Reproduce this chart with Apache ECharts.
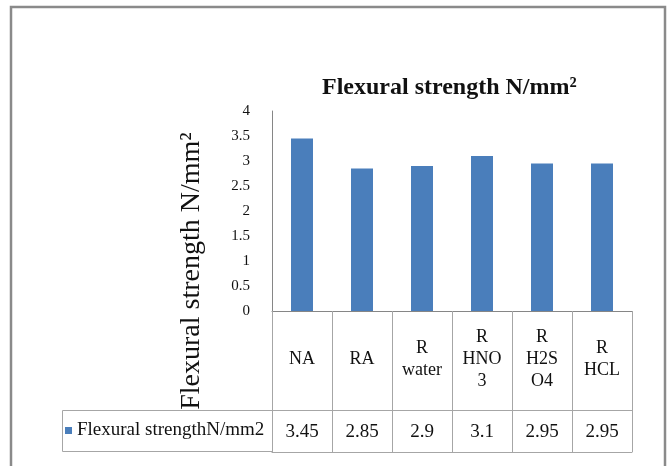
<!DOCTYPE html>
<html>
<head>
<meta charset="utf-8">
<script src="https://cdn.jsdelivr.net/npm/echarts@6/dist/echarts.min.js"></script>
<style>html,body{margin:0;padding:0;background:#fff;}#chart{width:668px;height:466px;}</style>
</head>
<body>
<div id="chart"></div>
<script>
const categories = ['NA', 'RA', 'R\nwater', 'R\nHNO\n3', 'R\nH2S\nO4', 'R\nHCL'];
const values = [3.45, 2.85, 2.9, 3.1, 2.95, 2.95];
const valueLabels = ['3.45', '2.85', '2.9', '3.1', '2.95', '2.95'];
const seriesName = 'Flexural strengthN/mm2';
const titleText = 'Flexural strength N/mm\u00b2';
const yAxisTitle = 'Flexural strength N/mm\u00b2';
const yMin = 0, yMax = 4, yStep = 0.5;

const SERIF = '"Liberation Serif", "DejaVu Serif", serif';
const tableLine = '#a6a6a6';

const chart = echarts.init(document.getElementById('chart'));
chart.setOption({
  animation: false,
  backgroundColor: '#fff',
  title: {
    text: titleText,
    left: 317, top: 71,
    textStyle: { fontFamily: SERIF, fontWeight: 'bold', fontSize: 24, color: '#111' }
  },
  legend: {
    data: [seriesName],
    left: 65, top: 421,
    padding: 0,
    icon: 'rect', itemWidth: 7, itemHeight: 7,
    textStyle: { fontFamily: SERIF, fontSize: 19, color: '#111' }
  },
  grid: { left: 272, right: 36, top: 111, bottom: 155, containLabel: false },
  xAxis: [
    {
      type: 'category', data: categories, position: 'bottom',
      axisLine: { lineStyle: { color: '#868686', width: 1 } },
      axisTick: { show: true, length: 99, lineStyle: { color: tableLine } },
      axisLabel: { margin: 48, verticalAlign: 'middle', lineHeight: 22, fontFamily: SERIF, fontSize: 18, color: '#111', interval: 0 }
    },
    {
      type: 'category', data: valueLabels, position: 'bottom', offset: 99,
      axisLine: { lineStyle: { color: tableLine, width: 1 } },
      axisTick: { show: true, length: 42, lineStyle: { color: tableLine } },
      axisLabel: { margin: 22, verticalAlign: 'middle', fontFamily: SERIF, fontSize: 19, color: '#111', interval: 0 }
    },
    {
      type: 'category', data: valueLabels, position: 'bottom', offset: 141,
      axisLine: { lineStyle: { color: tableLine, width: 1 } },
      axisTick: { show: false }, axisLabel: { show: false }
    }
  ],
  yAxis: {
    type: 'value', min: yMin, max: yMax, interval: yStep,
    name: yAxisTitle, nameLocation: 'middle', nameGap: 66,
    nameTextStyle: { fontFamily: SERIF, fontSize: 28, color: '#111', padding: [0, 120, 0, 0] },
    axisLine: { show: true, lineStyle: { color: '#868686' } },
    axisTick: { show: false },
    splitLine: { show: false },
    axisLabel: { margin: 22, fontFamily: SERIF, fontSize: 15, color: '#111' }
  },
  series: [{
    name: seriesName, type: 'bar', data: values,
    barWidth: 22,
    itemStyle: { color: '#4a7ebb' }
  }],
  graphic: [
    { type: 'rect', shape: { x: 11, y: 7, width: 654, height: 470 }, style: { fill: 'none', stroke: '#8a8a8a', lineWidth: 2.5 }, silent: true, z: 100 },
    { type: 'rect', shape: { x: 62.5, y: 410.5, width: 210, height: 41 }, style: { fill: 'none', stroke: tableLine, lineWidth: 1 }, silent: true }
  ]
});
</script>
</body>
</html>
